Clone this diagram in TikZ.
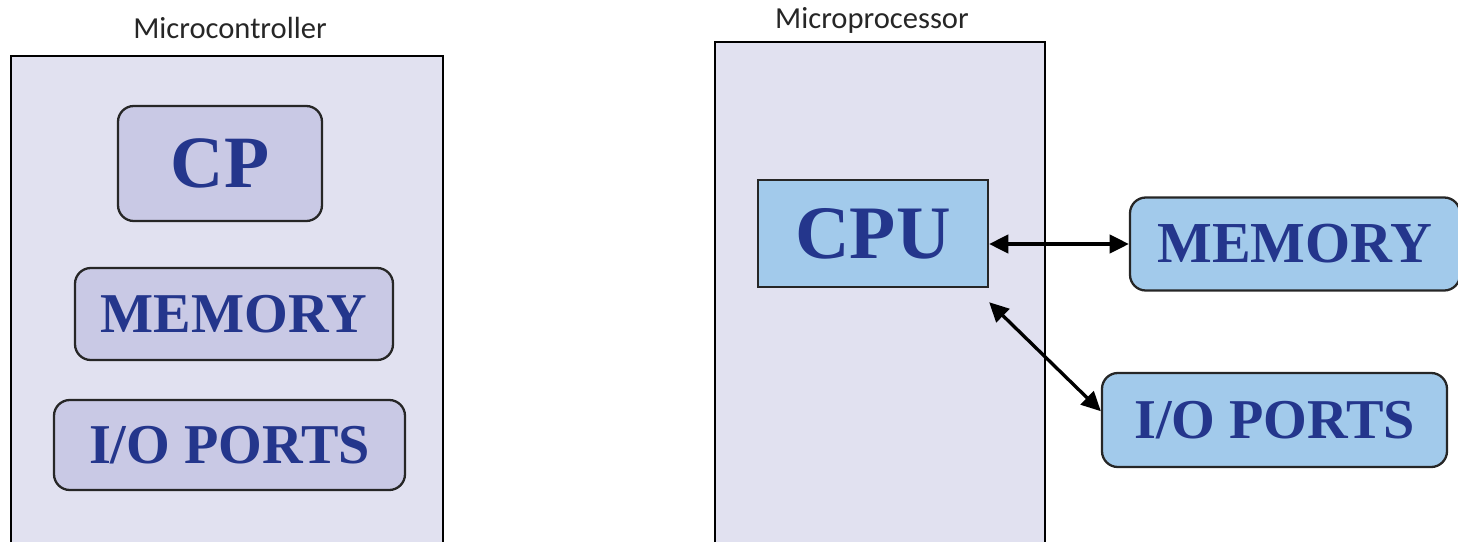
\documentclass[tikz,border=0pt]{standalone}
\usepackage{fontspec}
\setmainfont{Liberation Serif}
\newfontfamily\captionfont{Carlito}
\usepackage{tikz}
\usetikzlibrary{arrows.meta}
\usepackage{xcolor}
\definecolor{chipfill}{RGB}{225,225,240}
\definecolor{partfill}{RGB}{201,201,229}
\definecolor{cpufill}{RGB}{162,202,235}
\definecolor{inkblue}{RGB}{36,54,140}

\begin{document}
\begin{tikzpicture}[x=0.02cm, y=-0.02cm, >={Triangle[length=11pt,width=10.5pt]},
  chip/.style={draw=black, line width=1.1pt},
  caption/.style={font=\captionfont\fontsize{17.4}{20}\selectfont, text=black!85},
  part/.style={draw=black!85, line width=1.3pt, rounded corners=9pt, fill=partfill,
    text=inkblue, inner sep=0pt},
  extpart/.style={part, fill=cpufill},
  link/.style={<->, line width=1.9pt}]
  \useasboundingbox (0,0) rectangle (1458,542);

  % microcontroller
  \fill[chipfill] (11,56) rectangle (443,542);
  \draw[chip] (11,542) -- (11,56) -- (443,56) -- (443,542);
  \node[caption] (mctitle) at (230,28) {Microcontroller};
  \node[part, minimum width=204*0.02cm, minimum height=115*0.02cm,
    font=\bfseries\fontsize{42}{44}\selectfont] (cp) at (220,163.5) {CP};
  \node[part, minimum width=318*0.02cm, minimum height=92*0.02cm,
    font=\bfseries\fontsize{32}{34}\selectfont] (mcmem) at (234,314) {MEMORY};
  \node[part, minimum width=351*0.02cm, minimum height=90*0.02cm,
    font=\bfseries\fontsize{32}{34}\selectfont] (mcio) at (229.5,445) {I/O PORTS};

  % microprocessor
  \fill[chipfill] (715,42) rectangle (1045,542);
  \draw[chip] (715,542) -- (715,42) -- (1045,42) -- (1045,542);
  \node[caption] (mptitle) at (872,20) {Microprocessor};
  \node[extpart, rounded corners=0pt, minimum width=230*0.02cm, minimum height=107*0.02cm,
    font=\bfseries\fontsize{43}{45}\selectfont] (cpu) at (873,233.5) {CPU};
  \node[extpart, minimum width=330*0.02cm, minimum height=93*0.02cm,
    font=\bfseries\fontsize{33}{35}\selectfont] (mem) at (1295,244) {MEMORY};
  \node[extpart, minimum width=345*0.02cm, minimum height=94*0.02cm,
    font=\bfseries\fontsize{32}{34}\selectfont] (io) at (1274.5,420) {I/O PORTS};

  \draw[link] (cpu.east |- mem.west) -- (mem.west);
  \draw[link] ([yshift=-8pt]cpu.south east) -- ([yshift=5pt]io.west);
\end{tikzpicture}
\end{document}
